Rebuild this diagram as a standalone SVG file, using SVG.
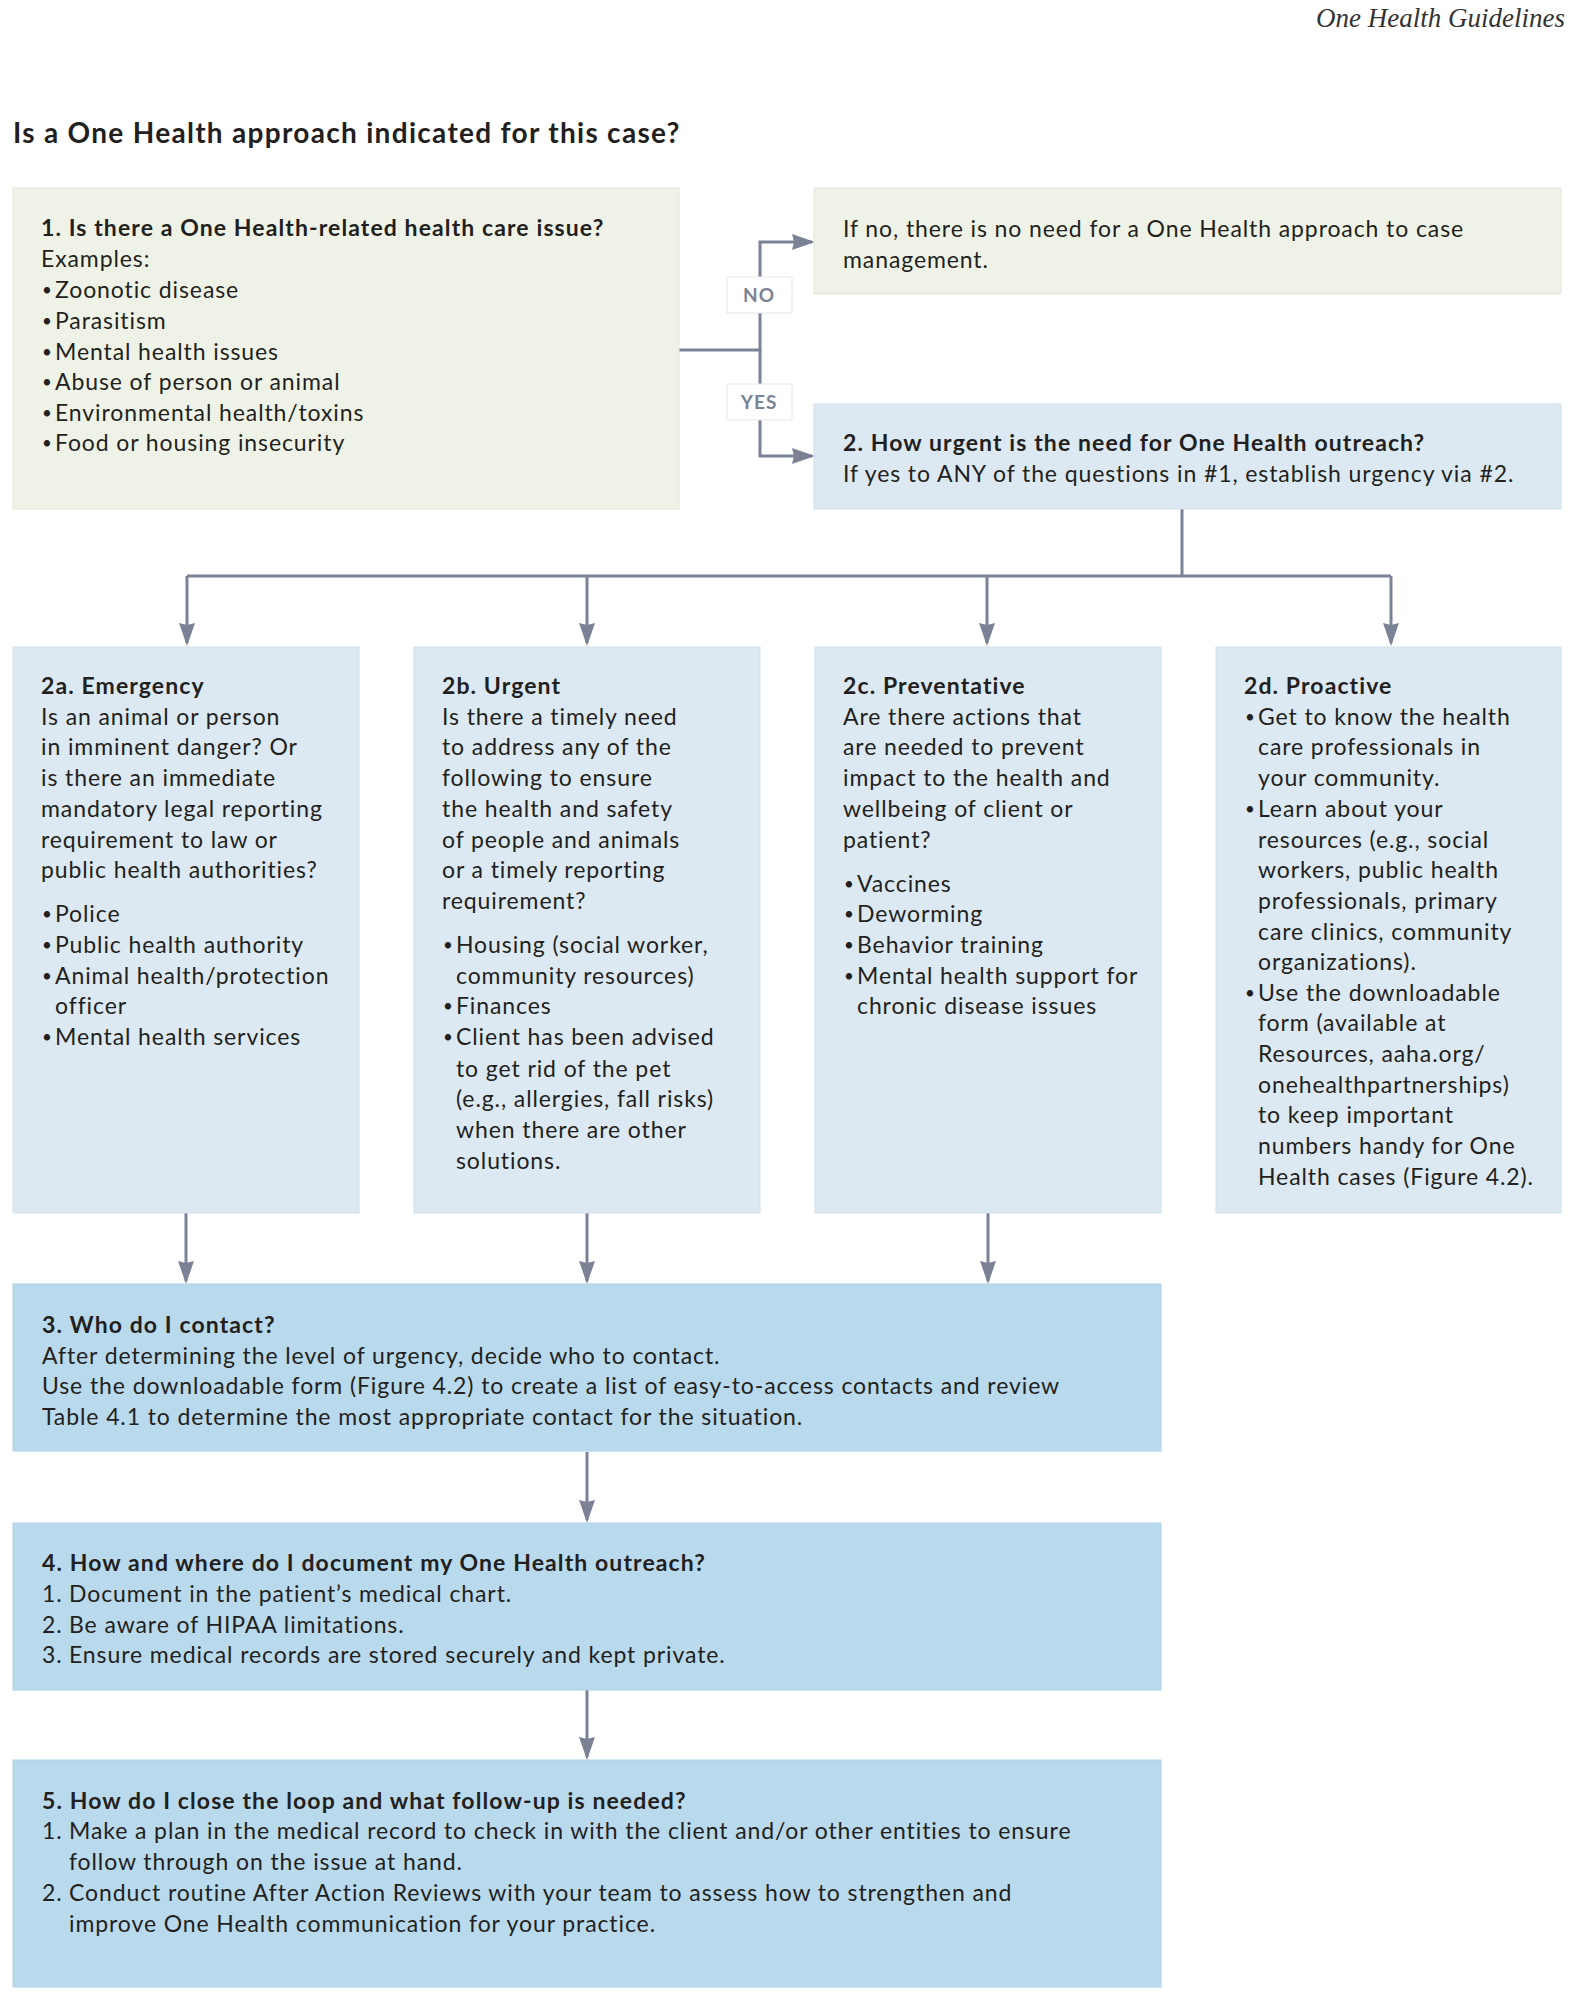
<svg xmlns="http://www.w3.org/2000/svg" width="1589" height="2000" viewBox="0 0 1589 2000">
<defs>
<style>
.t{font-family:Lato,"Liberation Sans",sans-serif;font-size:23px;letter-spacing:0.9px;fill:#231f20}
.b{font-weight:bold;letter-spacing:1.1px}
.bu{font-family:Lato,"Liberation Sans",sans-serif;font-size:17px;fill:#231f20}
.hdr{font-family:"Liberation Serif",serif;font-style:italic;font-size:27px;fill:#333}
.ttl{font-family:Lato,"Liberation Sans",sans-serif;font-size:28px;font-weight:bold;letter-spacing:1.3px;fill:#231f20}
.g{fill:#eff3e7;stroke:#e2e7da;stroke-width:1}
.l{fill:#dce9f3;stroke:#d2e0ea;stroke-width:1}
.m{fill:#b9d9ed;stroke:#b0d0e4;stroke-width:1}
.c{fill:none;stroke:#7b8296;stroke-width:3}
.lab{fill:#ffffff;stroke:#e4e7e9;stroke-width:1}
.lt{font-family:Lato,"Liberation Sans",sans-serif;font-size:19px;font-weight:bold;letter-spacing:1px;fill:#7b8296;text-anchor:middle}
</style>
<marker id="ah" markerUnits="userSpaceOnUse" markerWidth="23" markerHeight="16" refX="20" refY="8" orient="auto">
<path d="M0,0 L23,8 L0,16 L2,8 z" fill="#7b8296"/>
</marker>
</defs>
<rect width="1589" height="2000" fill="#ffffff"/>
<text class="hdr" x="1565" y="27" text-anchor="end">One Health Guidelines</text>
<text class="ttl" x="13" y="143">Is a One Health approach indicated for this case?</text>

<g id="connectors">
<path class="c" d="M679,350 H760 V242 H812" marker-end="url(#ah)"/>
<path class="c" d="M760,350 V456 H812" marker-end="url(#ah)"/>
<path class="c" d="M1182,509 V576"/>
<path class="c" d="M187,576 H1391"/>
<path class="c" d="M187,576 V643" marker-end="url(#ah)"/>
<path class="c" d="M587,576 V643" marker-end="url(#ah)"/>
<path class="c" d="M987,576 V643" marker-end="url(#ah)"/>
<path class="c" d="M1391,576 V643" marker-end="url(#ah)"/>
<path class="c" d="M186,1213 V1281" marker-end="url(#ah)"/>
<path class="c" d="M587,1213 V1281" marker-end="url(#ah)"/>
<path class="c" d="M988,1213 V1281" marker-end="url(#ah)"/>
<path class="c" d="M587,1452 V1520" marker-end="url(#ah)"/>
<path class="c" d="M587,1690 V1757" marker-end="url(#ah)"/>
<rect class="lab" x="727" y="277" width="65" height="36"/>
<text class="lt" x="759" y="302">NO</text>
<rect class="lab" x="727" y="384" width="65" height="36"/>
<text class="lt" x="759" y="409">YES</text>
</g>

<g id="node1">
<rect class="g" x="13" y="188" width="666" height="321"/>
<g transform="translate(0,1.5)">
<text class="t b" x="41" y="234">1. Is there a One Health-related health care issue?</text>
<text class="t" x="41" y="265">Examples:</text>
<text class="bu" x="42" y="294">•</text><text class="t" x="55" y="296">Zoonotic disease</text>
<text class="bu" x="42" y="325">•</text><text class="t" x="55" y="327">Parasitism</text>
<text class="bu" x="42" y="356">•</text><text class="t" x="55" y="358">Mental health issues</text>
<text class="bu" x="42" y="386">•</text><text class="t" x="55" y="388">Abuse of person or animal</text>
<text class="bu" x="42" y="417">•</text><text class="t" x="55" y="419">Environmental health/toxins</text>
<text class="bu" x="42" y="447">•</text><text class="t" x="55" y="449">Food or housing insecurity</text>
</g>
</g>

<g id="node-no">
<rect class="g" x="814" y="188" width="747" height="106"/>
<g transform="translate(0,1.5)">
<text class="t" x="843" y="235">If no, there is no need for a One Health approach to case</text>
<text class="t" x="843" y="266">management.</text>
</g>
</g>

<g id="node2">
<rect class="l" x="814" y="404" width="747" height="105"/>
<g transform="translate(0,1.5)">
<text class="t b" x="843" y="449">2. How urgent is the need for One Health outreach?</text>
<text class="t" x="843" y="480">If yes to ANY of the questions in #1, establish urgency via #2.</text>
</g>
</g>

<g id="node2a">
<rect class="l" x="13" y="647" width="346" height="566"/>
<g transform="translate(0,1.5)">
<text class="t b" x="41" y="692">2a. Emergency</text>
<text class="t" x="41" y="723">Is an animal or person</text>
<text class="t" x="41" y="753">in imminent danger? Or</text>
<text class="t" x="41" y="784">is there an immediate</text>
<text class="t" x="41" y="815">mandatory legal reporting</text>
<text class="t" x="41" y="846">requirement to law or</text>
<text class="t" x="41" y="876">public health authorities?</text>
<text class="bu" x="42" y="918">•</text><text class="t" x="55" y="920">Police</text>
<text class="bu" x="42" y="949">•</text><text class="t" x="55" y="951">Public health authority</text>
<text class="bu" x="42" y="980">•</text><text class="t" x="55" y="982">Animal health/protection</text>
<text class="t" x="55" y="1012">officer</text>
<text class="bu" x="42" y="1041">•</text><text class="t" x="55" y="1043">Mental health services</text>
</g>
</g>

<g id="node2b">
<rect class="l" x="414" y="647" width="346" height="566"/>
<g transform="translate(0,1.5)">
<text class="t b" x="442" y="692">2b. Urgent</text>
<text class="t" x="442" y="723">Is there a timely need</text>
<text class="t" x="442" y="753">to address any of the</text>
<text class="t" x="442" y="784">following to ensure</text>
<text class="t" x="442" y="815">the health and safety</text>
<text class="t" x="442" y="846">of people and animals</text>
<text class="t" x="442" y="876">or a timely reporting</text>
<text class="t" x="442" y="907">requirement?</text>
<text class="bu" x="443" y="949">•</text><text class="t" x="456" y="951">Housing (social worker,</text>
<text class="t" x="456" y="982">community resources)</text>
<text class="bu" x="443" y="1010">•</text><text class="t" x="456" y="1012">Finances</text>
<text class="bu" x="443" y="1041">•</text><text class="t" x="456" y="1043">Client has been advised</text>
<text class="t" x="456" y="1075">to get rid of the pet</text>
<text class="t" x="456" y="1105">(e.g., allergies, fall risks)</text>
<text class="t" x="456" y="1136">when there are other</text>
<text class="t" x="456" y="1167">solutions.</text>
</g>
</g>

<g id="node2c">
<rect class="l" x="815" y="647" width="346" height="566"/>
<g transform="translate(0,1.5)">
<text class="t b" x="843" y="692">2c. Preventative</text>
<text class="t" x="843" y="723">Are there actions that</text>
<text class="t" x="843" y="753">are needed to prevent</text>
<text class="t" x="843" y="784">impact to the health and</text>
<text class="t" x="843" y="815">wellbeing of client or</text>
<text class="t" x="843" y="846">patient?</text>
<text class="bu" x="844" y="888">•</text><text class="t" x="857" y="890">Vaccines</text>
<text class="bu" x="844" y="918">•</text><text class="t" x="857" y="920">Deworming</text>
<text class="bu" x="844" y="949">•</text><text class="t" x="857" y="951">Behavior training</text>
<text class="bu" x="844" y="980">•</text><text class="t" x="857" y="982">Mental health support for</text>
<text class="t" x="857" y="1012">chronic disease issues</text>
</g>
</g>

<g id="node2d">
<rect class="l" x="1216" y="647" width="345" height="566"/>
<g transform="translate(0,1.5)">
<text class="t b" x="1244" y="692">2d. Proactive</text>
<text class="bu" x="1245" y="721">•</text><text class="t" x="1258" y="723">Get to know the health</text>
<text class="t" x="1258" y="753">care professionals in</text>
<text class="t" x="1258" y="784">your community.</text>
<text class="bu" x="1245" y="813">•</text><text class="t" x="1258" y="815">Learn about your</text>
<text class="t" x="1258" y="846">resources (e.g., social</text>
<text class="t" x="1258" y="876">workers, public health</text>
<text class="t" x="1258" y="907">professionals, primary</text>
<text class="t" x="1258" y="938">care clinics, community</text>
<text class="t" x="1258" y="968">organizations).</text>
<text class="bu" x="1245" y="997">•</text><text class="t" x="1258" y="999">Use the downloadable</text>
<text class="t" x="1258" y="1029">form (available at</text>
<text class="t" x="1258" y="1060">Resources, aaha.org/</text>
<text class="t" x="1258" y="1091">onehealthpartnerships)</text>
<text class="t" x="1258" y="1121">to keep important</text>
<text class="t" x="1258" y="1152">numbers handy for One</text>
<text class="t" x="1258" y="1183">Health cases (Figure 4.2).</text>
</g>
</g>

<g id="node3">
<rect class="m" x="13" y="1284" width="1148" height="167"/>
<g transform="translate(0,1.5)">
<text class="t b" x="42" y="1331">3. Who do I contact?</text>
<text class="t" x="42" y="1362">After determining the level of urgency, decide who to contact.</text>
<text class="t" x="42" y="1392">Use the downloadable form (Figure 4.2) to create a list of easy-to-access contacts and review</text>
<text class="t" x="42" y="1423">Table 4.1 to determine the most appropriate contact for the situation.</text>
</g>
</g>

<g id="node4">
<rect class="m" x="13" y="1523" width="1148" height="167"/>
<g transform="translate(0,1.5)">
<text class="t b" x="42" y="1569">4. How and where do I document my One Health outreach?</text>
<text class="t" x="42" y="1600">1.</text><text class="t" x="69" y="1600">Document in the patient’s medical chart.</text>
<text class="t" x="42" y="1631">2.</text><text class="t" x="69" y="1631">Be aware of HIPAA limitations.</text>
<text class="t" x="42" y="1661">3.</text><text class="t" x="69" y="1661">Ensure medical records are stored securely and kept private.</text>
</g>
</g>

<g id="node5">
<rect class="m" x="13" y="1760" width="1148" height="227"/>
<g transform="translate(0,1.5)">
<text class="t b" x="42" y="1807">5. How do I close the loop and what follow-up is needed?</text>
<text class="t" x="42" y="1837">1.</text><text class="t" x="69" y="1837">Make a plan in the medical record to check in with the client and/or other entities to ensure</text>
<text class="t" x="69" y="1868">follow through on the issue at hand.</text>
<text class="t" x="42" y="1899">2.</text><text class="t" x="69" y="1899">Conduct routine After Action Reviews with your team to assess how to strengthen and</text>
<text class="t" x="69" y="1930">improve One Health communication for your practice.</text>
</g>
</g>
</svg>
